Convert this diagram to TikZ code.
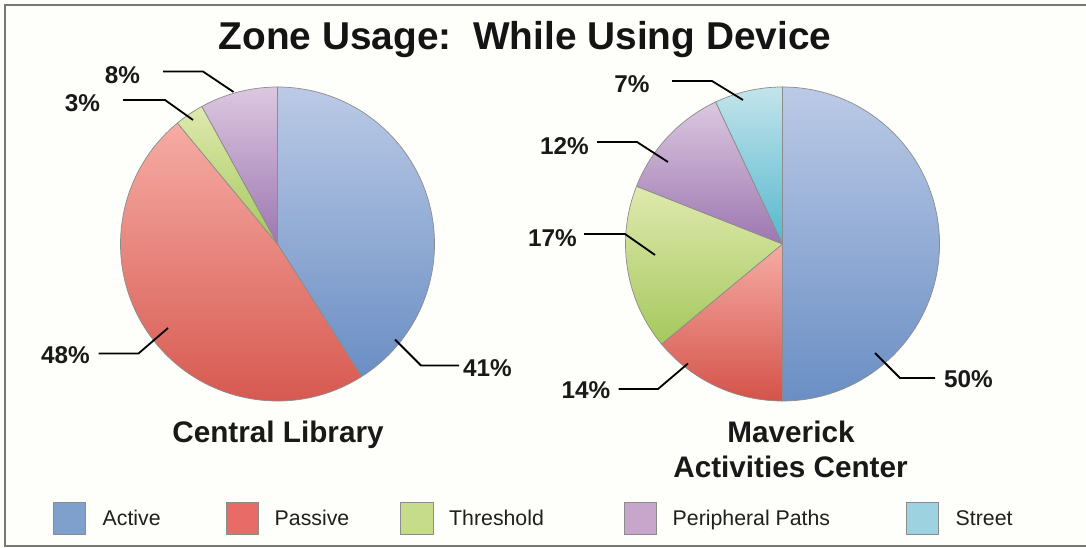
\documentclass[tikz,border=0pt]{standalone}
\usepackage{fontspec}
\setmainfont{Liberation Sans}
\frenchspacing

% slice colours: light (top) and deep (bottom) end of each gradient
\definecolor{actT}{HTML}{BBCAE6}
\definecolor{actB}{HTML}{6A8EC4}
\definecolor{pasT}{HTML}{F6ACA4}
\definecolor{pasB}{HTML}{D4534A}
\definecolor{thrT}{HTML}{DFE9AE}
\definecolor{thrB}{HTML}{A5C85C}
\definecolor{perT}{HTML}{DCC7E0}
\definecolor{perB}{HTML}{9D77B1}
\definecolor{strT}{HTML}{C3E4EB}
\definecolor{strB}{HTML}{55B8CE}
% legend swatches
\definecolor{actL}{HTML}{7F9FCC}
\definecolor{pasL}{HTML}{E86B67}
\definecolor{thrL}{HTML}{C7DC8A}
\definecolor{perL}{HTML}{C8A6CB}
\definecolor{strL}{HTML}{9DD2E0}
\definecolor{paper}{RGB}{254,254,250}
\definecolor{edge}{HTML}{8C8C8C}
\definecolor{framegray}{HTML}{777777}

\newcommand\titlesize{\fontsize{38.8}{46}\selectfont\bfseries}
\newcommand\namesize{\fontsize{29.7}{36}\selectfont\bfseries}
\newcommand\pctsize{\fontsize{24.3}{29}\selectfont\bfseries}
\newcommand\legsize{\fontsize{21.3}{26}\selectfont}

% one pie wedge: centre, start angle, end angle, top colour, bottom colour
% (y grows downwards, so increasing angles run clockwise from -90 = top)
\newcommand\pieslice[5]{%
  \shadedraw[slice, top color=#4, bottom color=#5]
    (#1) -- ++(#2:157) arc[start angle=#2, end angle=#3, radius=157] -- cycle;}

\begin{document}
\begin{tikzpicture}[x=1pt, y=-1pt,
  slice/.style={draw=edge, line width=0.7pt, line join=round},
  leader/.style={black, line width=1.8pt},
  pct/.style={font=\pctsize, inner sep=0pt, text=black!90},
  heading/.style={font=\namesize, inner sep=0pt, anchor=base, text=black!90},
  legbox/.style={draw=edge, line width=0.8pt, minimum width=32.5pt, minimum height=32pt, inner sep=0pt},
  legtext/.style={font=\legsize, inner sep=0pt, anchor=base west, text=black!88}]

\useasboundingbox (0,0) rectangle (1086,548);
\fill[paper] (0,0) rectangle (1086,548);
\draw[framegray, line width=1.8pt] (1090,5.3) -- (5,5.3) -- (5,546) -- (1090,546);

% title
\node[font=\titlesize, inner sep=0pt, anchor=base, text=black!92] (title) at (525,49.3)
  {Zone Usage:~~While Using Device};

% ---- Central Library ----
\coordinate (c1) at (277.5,244);
\pieslice{c1}{-90}{57.6}{actT}{actB}
\pieslice{c1}{57.6}{230.4}{pasT}{pasB}
\pieslice{c1}{230.4}{241.2}{thrT}{thrB}
\pieslice{c1}{241.2}{270}{perT}{perB}

\node[pct] (p8)  at (122.5,75)  {8\%};
\node[pct] (p3)  at (82.5,103)  {3\%};
\node[pct] (p48) at (65.5,355)  {48\%};
\node[pct] (p41) at (487.5,368) {41\%};

\coordinate (a8)  at (163,71.5);  \coordinate (b8)  at (203,71.5);  \coordinate (e8)  at (233.5,92);
\coordinate (a3)  at (123,100);   \coordinate (b3)  at (165,100);   \coordinate (e3)  at (193,120);
\coordinate (a48) at (98.5,353.5);  \coordinate (b48) at (138.5,353.5); \coordinate (e48) at (168,328);
\coordinate (a41) at (459,365.5); \coordinate (b41) at (421,365.5); \coordinate (e41) at (395,339.5);
\draw[leader] (a8) -- (b8) -- (e8);
\draw[leader] (a3) -- (b3) -- (e3);
\draw[leader] (a48) -- (b48) -- (e48);
\draw[leader] (a41) -- (b41) -- (e41);

\node[heading] (lib) at (278,442) {Central Library};

% ---- Maverick Activities Center ----
\coordinate (c2) at (782.5,244);
\pieslice{c2}{-90}{90}{actT}{actB}
\pieslice{c2}{90}{140.4}{pasT}{pasB}
\pieslice{c2}{140.4}{201.6}{thrT}{thrB}
\pieslice{c2}{201.6}{244.8}{perT}{perB}
\pieslice{c2}{244.8}{270}{strT}{strB}

\node[pct] (q7)  at (632,84)    {7\%};
\node[pct] (q12) at (564.5,146) {12\%};
\node[pct] (q17) at (552.5,238) {17\%};
\node[pct] (q14) at (586,390)   {14\%};
\node[pct] (q50) at (968.5,379.5) {50\%};

\coordinate (f7)  at (672,81);    \coordinate (g7)  at (712,81);    \coordinate (h7)  at (743,100);
\coordinate (f12) at (597,142);   \coordinate (g12) at (637,142);   \coordinate (h12) at (668,162);
\coordinate (f17) at (584,234);   \coordinate (g17) at (625,234);   \coordinate (h17) at (655,255);
\coordinate (f14) at (618.5,389); \coordinate (g14) at (658,389); \coordinate (h14) at (688,363.5);
\coordinate (f50) at (935,378); \coordinate (g50) at (900,378); \coordinate (h50) at (875,353);
\draw[leader] (f7) -- (g7) -- (h7);
\draw[leader] (f12) -- (g12) -- (h12);
\draw[leader] (f17) -- (g17) -- (h17);
\draw[leader] (f14) -- (g14) -- (h14);
\draw[leader] (f50) -- (g50) -- (h50);

\node[heading] (mav1) at (791,442)   {Maverick};
\node[heading] (mav2) at (790.5,477) {Activities Center};

% ---- legend ----
\node[legbox, fill=actL] (kAct) at (69.2,518)  {};
\node[legbox, fill=pasL] (kPas) at (242.5,518) {};
\node[legbox, fill=thrL] (kThr) at (416.8,518) {};
\node[legbox, fill=perL] (kPer) at (640.3,518) {};
\node[legbox, fill=strL] (kStr) at (922.5,518) {};
\node[legtext] (tAct) at (102.5,525) {Active};
\node[legtext] (tPas) at (274.5,525) {Passive};
\node[legtext] (tThr) at (449,525)   {Threshold};
\node[legtext] (tPer) at (672.5,525) {Peripheral Paths};
\node[legtext] (tStr) at (955.5,525) {Street};
\end{tikzpicture}
\end{document}
